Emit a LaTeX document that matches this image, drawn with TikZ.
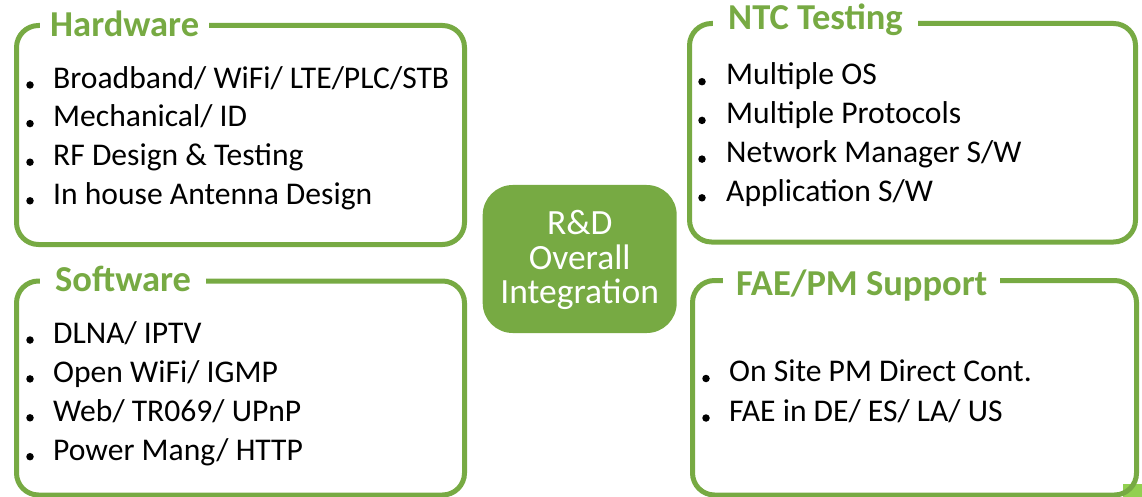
\documentclass[tikz,border=0pt]{standalone}
\usepackage{fontspec}
\setmainfont{Carlito}
\definecolor{grn}{RGB}{119,170,67}
\definecolor{lgrn}{RGB}{146,208,80}
\begin{document}
\begin{tikzpicture}[x=1pt,y=-1pt,
  panel/.style={draw=grn, line width=5pt, rounded corners=22pt, inner sep=0pt},
  ptitle/.style={fill=white, text=grn, font=\fontsize{36.5}{36}\selectfont\bfseries, anchor=base west, inner ysep=2pt},
  item/.style={anchor=base west, inner sep=0pt, font=\fontsize{31.6}{31}\selectfont},
  ctext/.style={text=white, anchor=base, inner sep=0pt, font=\fontsize{35.5}{35}\selectfont},
  dot/.style={circle, fill=black, inner sep=0pt, minimum size=7.5pt}]
\useasboundingbox (0,0) rectangle (1142,497);
% light square artifact
\fill[lgrn] (1123,484) rectangle (1142,497);
% panels
\node[panel, minimum width=448pt, minimum height=219pt] (hw) at (240.5,135) {};
\node[panel, minimum width=446pt, minimum height=218.5pt] (ntc) at (912.5,132.75) {};
\node[panel, minimum width=448pt, minimum height=214pt] (sw) at (240.5,388) {};
\node[panel, minimum width=444pt, minimum height=214.5pt] (fae) at (914.5,387.75) {};
% center
\node[fill=grn, rounded corners=30pt, minimum width=194pt, minimum height=148pt, inner sep=0pt] (rd) at (579.7,259) {};
\node[ctext] (rdt1) at (579.7,234) {R\&D};
\node[ctext] (rdt2) at (579.7,269) {Overall};
\node[ctext] (rdt3) at (579.7,303) {Integration};
% titles
\node[ptitle, inner xsep=10pt] (hwt) at (40,36.7) {Hardware};
\node[ptitle, inner xsep=15pt] (ntct) at (713,29.3) {NTC Testing};
\node[ptitle, inner xsep=15pt] (swt) at (40,291.7) {Software};
\node[ptitle, inner xsep=13pt] (faet) at (723,295) {FAE/PM Support};
% hardware items
\foreach \t [count=\i] in {Broadband/ WiFi/ LTE/PLC/STB, Mechanical/ ID, RF Design \& Testing, In house Antenna Design}{
  \node[item] (hw\i) at (53,{88.3+38.6*(\i-1)}) {\t};
  \node[dot] (hwd\i) at (30,{85+38.6*(\i-1)}) {};
}
\foreach \t [count=\i] in {Multiple OS, Multiple Protocols, Network Manager S/W, Application S/W}{
  \node[item] (ntc\i) at (726,{85+38.7*(\i-1)}) {\t};
  \node[dot] (ntcd\i) at (702,{81.7+38.7*(\i-1)}) {};
}
\foreach \t [count=\i] in {DLNA/ IPTV, Open WiFi/ IGMP, Web/ TR069/ UPnP, Power Mang/ HTTP}{
  \node[item] (sw\i) at (53,{343.3+38.9*(\i-1)}) {\t};
  \node[dot] (swd\i) at (30,{340+38.9*(\i-1)}) {};
}
\foreach \t [count=\i] in {On Site PM Direct Cont., FAE in DE/ ES/ LA/ US}{
  \node[item] (fae\i) at (729,{381.7+39.5*(\i-1)}) {\t};
  \node[dot] (faed\i) at (706,{378.5+39.5*(\i-1)}) {};
}
\end{tikzpicture}
\end{document}
